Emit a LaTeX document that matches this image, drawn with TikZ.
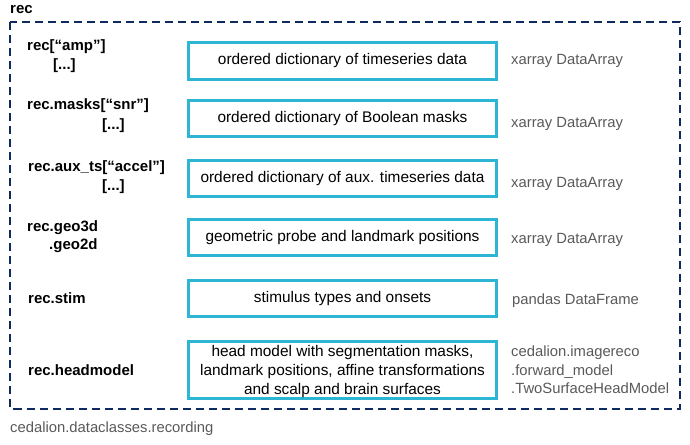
\documentclass[tikz,border=0pt]{standalone}
\usepackage{fontspec}
\setmainfont{Liberation Sans}
\definecolor{navy}{HTML}{0F2A5E}
\definecolor{cy}{HTML}{2DB6D4}
\definecolor{gr}{HTML}{595959}
\begin{document}
\begin{tikzpicture}[x=1pt,y=-1pt,
 box/.style={draw=cy, line width=3pt, minimum width=308pt, minimum height=36pt, inner sep=0pt, align=center, font=\fontsize{15.4}{19}\selectfont},
 boxtext/.style={inner sep=0pt, align=center, font=\fontsize{15.4}{19.3}\selectfont},
 lbl/.style={anchor=west, inner sep=0pt, font=\fontsize{15}{18}\selectfont\bfseries},
 typ/.style={anchor=west, inner sep=0pt, text=gr, align=left, font=\fontsize{14.8}{18.5}\selectfont},
 frame/.style={draw=navy, line width=2pt, dash pattern=on 8pt off 5pt}]
\useasboundingbox (0,0) rectangle (690,444);
\draw[frame] (10,22) rectangle (680,408.5);
\node[lbl] (rec) at (10,10) {rec};
\node[typ] (cls) at (10,429) {cedalion.dataclasses.recording};

\node[box] (b1) at (342.5,61) {ordered dictionary of timeseries data};
\node[box] (b2) at (342.5,118.5) {ordered dictionary of Boolean masks};
\node[box] (b3) at (342.5,178.5) {ordered dictionary of aux. timeseries data};
\node[box] (b4) at (342.5,237.5) {geometric probe and landmark positions};
\node[box] (b5) at (342.5,298.5) {stimulus types and onsets};
\node[box, minimum height=57pt] (b6) at (342.5,370) {};
\node[boxtext] (b6t) at (342.5,371.5) {head model with segmentation masks,\\landmark positions, affine transformations\\and scalp and brain surfaces};

\node[lbl] (l1a) at (27,47) {rec[“amp”]};
\node[lbl] (l1b) at (53,66) {[...]};
\node[lbl] (l2a) at (27,106) {rec.masks[“snr”]};
\node[lbl] (l2b) at (102,126) {[...]};
\node[lbl] (l3a) at (28,168) {rec.aux\_ts[“accel”]};
\node[lbl] (l3b) at (102,187) {[...]};
\node[lbl] (l4a) at (27,228) {rec.geo3d};
\node[lbl] (l4b) at (49,246) {.geo2d};
\node[lbl] (l5) at (28,298) {rec.stim};
\node[lbl] (l6) at (28,370) {rec.headmodel};

\node[typ] (t1) at (511,61) {xarray DataArray};
\node[typ] (t2) at (511,124) {xarray DataArray};
\node[typ] (t3) at (511,184) {xarray DataArray};
\node[typ] (t4) at (511,240) {xarray DataArray};
\node[typ] (t5) at (512,301) {pandas DataFrame};
\node[typ] (t6) at (511,370) {cedalion.imagereco\\.forward\_model\\.TwoSurfaceHeadModel};
\end{tikzpicture}
\end{document}
